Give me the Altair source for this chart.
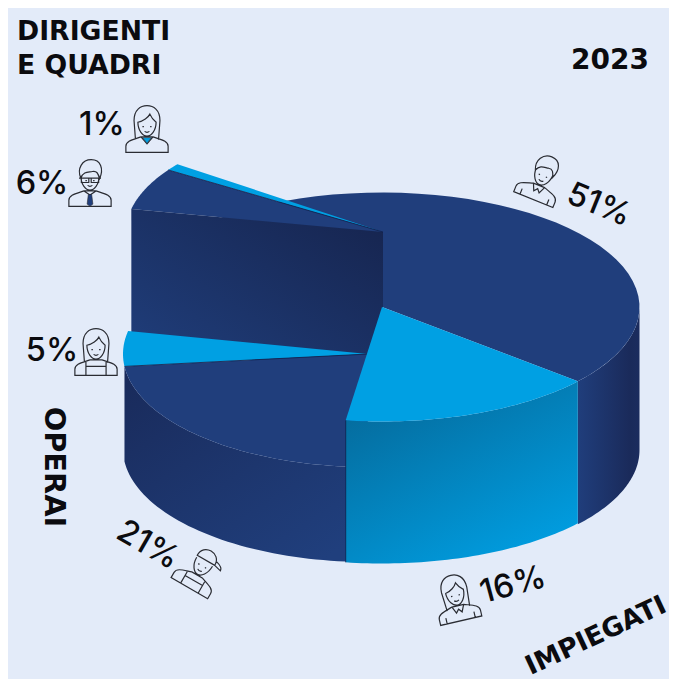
import math
import altair as alt
import pandas as pd

# ---- data
groups = ["Impiegati", "Operai", "Operai donne", "Dirigenti", "Quadri", "Impiegati uomini"]
shares = [16, 21, 5, 6, 1, 51]
labels = ["16%", "21%", "5%", "6%", "1%", "51%"]
year = "2023"
captions = ["DIRIGENTI", "E QUADRI", "OPERAI", "IMPIEGATI"]

BG = "#e3ebf9"
DARK = "#203e7c"
LIGHT = "#00a0e3"
INK = "#2a2c33"
START = 40.5

# angles of each slice follow from its share
spans = {}
a = START
for g, s in zip(groups, shares):
    spans[g] = (a, a + s * 3.6)
    a += s * 3.6

# exploded pie layout: centre x, centre y, radius x, radius y
MAIN = (382, 307, 257.5, 114.5)
LOW = (368, 354, 245, 113)
UP = (383, 232, 257, 113)


def rim(geo, t0, t1, dy=0, n=48):
    cx, cy, rx, ry = geo
    return [
        (cx + rx * math.cos(math.radians(t0 + (t1 - t0) * i / n)),
         cy + dy + ry * math.sin(math.radians(t0 + (t1 - t0) * i / n)))
        for i in range(n + 1)
    ]


def wedge(geo, t0, t1):
    return [(geo[0], geo[1])] + rim(geo, t0, t1)


def wall(geo, t0, t1, depth):
    return rim(geo, t0, t1) + rim(geo, t1, t0, depth)


def grad(c0, c1, x1=0, y1=0, x2=1, y2=1, mid=None):
    stops = [alt.GradientStop(color=c0, offset=0)]
    if mid:
        stops.append(alt.GradientStop(color=mid[0], offset=mid[1]))
    stops.append(alt.GradientStop(color=c1, offset=1))
    return alt.Gradient(gradient="linear", stops=stops, x1=x1, y1=y1, x2=x2, y2=y2)


X = alt.X("x:Q", scale=alt.Scale(domain=[8, 669], nice=False, zero=False), axis=None)
Y = alt.Y("y:Q", scale=alt.Scale(domain=[679, 8], nice=False, zero=False), axis=None)


def poly(points, fill):
    df = pd.DataFrame(points, columns=["x", "y"])
    df["i"] = range(len(df))
    return alt.Chart(df).mark_line(fill=fill, stroke=None, strokeWidth=0, interpolate="linear-closed").encode(
        x=X, y=Y, order="i:Q")


def seam(points, width=0.8):
    df = pd.DataFrame(points, columns=["x", "y"])
    df["i"] = range(len(df))
    return alt.Chart(df).mark_line(color="#11204a", strokeWidth=width).encode(x=X, y=Y, order="i:Q")


t_imp, t_ope, t_opd, t_dir, t_qua, t_man = [spans[g] for g in groups]
# the lower slice runs on behind the front slice so no gap shows between them
t_ope_ext = (t_ope[0] - 8, t_ope[1])

up_a = rim(UP, t_dir[0], t_dir[0], n=1)[0]
up_wall = [(UP[0], UP[1])] + [up_a] + [(up_a[0], up_a[1] + 140), (UP[0], UP[1] + 140)]

layers = [
    poly(wall(MAIN, 0, t_man[1] - 360, 143),
         grad(DARK, "#1b2c5e", 0, 0, 1, 0, mid=("#1a2a5a", 0.85))),
    poly(wedge(MAIN, *t_man), DARK),
    poly(wedge(UP, *t_qua), LIGHT),
    poly(wedge(UP, *t_dir), DARK),
    poly(up_wall, grad("#203f7d", "#16244e", 0, 1, 1, 0)),
    seam([(UP[0], UP[1]), rim(UP, t_dir[1], t_dir[1], n=1)[0]], 0.8),
    poly(wedge(LOW, *t_opd), LIGHT),
    poly(wall(LOW, *t_ope_ext, 95), grad("#192a5a", "#203f7d", 0, 0, 0.8, 1)),
    poly(wedge(LOW, *t_ope_ext), DARK),
    seam([(LOW[0], LOW[1]), rim(LOW, t_ope[1], t_ope[1], n=1)[0]], 0.8),
    poly(wall(MAIN, *t_imp, 142), grad("#056a9b", "#00a0e4", 0.2, 0, 0.85, 1)),
    poly(wedge(MAIN, *t_imp), LIGHT),
    seam([rim(MAIN, t_imp[1], t_imp[1], n=1)[0],
          rim(MAIN, t_imp[1], t_imp[1], dy=142, n=1)[0]], 0.8),
]

# ---- text
bold = pd.DataFrame({
    "x": [17, 17, 571, 54, 596],
    "y": [31.5, 66, 60.5, 467, 636],
    "t": [captions[0], captions[1], year, captions[2], captions[3]],
    "a": [0, 0, 0, 90, 335],
    "s": [26.7, 26.7, 28, 28.8, 26.5],
    "al": ["left", "left", "left", "center", "center"],
})
for al, part in bold.groupby("al"):
    layers.append(
        alt.Chart(part).mark_text(font="DejaVu Sans", fontWeight="bold", color="#0b0b0f",
                                  align=al, baseline="middle").encode(
            x=X, y=Y, text="t:N", angle=alt.Angle("a:Q", scale=None),
            size=alt.Size("s:Q", scale=None, legend=None)))

pct = pd.DataFrame({
    "x": [513, 148, 52, 42, 102, 599],
    "y": [585, 545, 351, 184, 125, 205],
    "t": labels,
    "a": [345, 30, 0, 0, 0, 22],
})
layers.append(
    alt.Chart(pct).mark_text(font="Inter", fontWeight=500, fontSize=32.5, color="#0b0b0f",
                             align="center", baseline="middle").encode(
        x=X, y=Y, text="t:N", angle=alt.Angle("a:Q", scale=None)))

# ---- person icons (line art, unit box -1..1)
SHOULDERS = "M-.88 .97 L-.88 .72 C-.88 .5 -.6 .45 -.25 .33 L.25 .33 C.6 .45 .88 .5 .88 .72 L.88 .97 Z "
FACE = ("M-.38 -.3 C-.38 .08 -.17 .3 0 .3 C.17 .3 .38 .08 .38 -.3 "
        "M-.19 -.1 L-.13 -.1 M.13 -.1 L.19 -.1 M-.1 .1 Q0 .18 .1 .1 ")
COLLAR = "M-.25 .33 L-.12 .62 L0 .48 L.12 .62 L.25 .33 M-.6 .97 L-.6 .72 M.6 .97 L.6 .72 "
MAN_HAIR = ("M-.38 -.2 C-.56 -.6 -.32 -.97 .05 -.97 C.45 -.97 .58 -.6 .4 -.18 "
            "C.34 -.4 .28 -.52 .1 -.48 C-.05 -.44 -.28 -.5 -.38 -.2 Z ")
LONG_HAIR = ("M-.48 .45 L-.54 -.35 C-.54 -.8 -.27 -.97 0 -.97 C.27 -.97 .54 -.8 .54 -.35 L.48 .45 "
             "M-.38 -.28 C-.15 -.32 .05 -.48 .12 -.62 C.18 -.48 .25 -.38 .38 -.28 ")
GLASSES = "M-.46 -.2 L.46 -.2 M-.36 -.2 L-.05 -.2 L-.05 -.02 L-.36 -.02 Z M.05 -.2 L.36 -.2 L.36 -.02 L.05 -.02 Z "
CAP = ("M-.4 -.38 C-.44 -.97 .46 -.97 .44 -.38 Z M.44 -.38 L.76 -.3 C.76 -.42 .64 -.5 .44 -.55 ")
APRON = "M-.42 .42 L-.42 .97 M.42 .42 L.42 .97 M-.42 .6 L.42 .6 "

icons = [
    (147, 129, 0, LONG_HAIR + FACE + SHOULDERS + "M-.25 .33 L0 .62 L.25 .33 ", 2304),
    (90, 183, 0, MAN_HAIR + FACE + GLASSES + SHOULDERS + "M-.25 .33 L0 .5 L.25 .33 ", 2304),
    (542, 178, 22, MAN_HAIR + FACE + SHOULDERS + COLLAR, 2304),
    (96, 352, 0, LONG_HAIR + FACE + SHOULDERS + APRON, 2304),
    (201, 568, 30, CAP + FACE + SHOULDERS + APRON, 2304),
    (456, 598, 347, LONG_HAIR + FACE + SHOULDERS + COLLAR, 2304),
]
for ix, iy, ia, path, size in icons:
    d = pd.DataFrame({"x": [ix], "y": [iy], "a": [ia]})
    layers.append(
        alt.Chart(d).mark_point(shape=path, size=size, filled=False, stroke=INK, strokeWidth=1.2, opacity=1).encode(
            x=X, y=Y, angle=alt.Angle("a:Q", scale=None)))

accents = [
    (147, 129, "M-.18 .36 L.18 .36 L0 .6 Z", LIGHT),
    (90, 183, "M-.07 .48 L.07 .48 L.12 .88 L0 .97 L-.12 .88 Z", DARK),
]
for ix, iy, path, col in accents:
    d = pd.DataFrame({"x": [ix], "y": [iy]})
    layers.append(
        alt.Chart(d).mark_point(shape=path, size=2304, filled=True, fill=col, stroke=INK, strokeWidth=0.6, opacity=1).encode(
            x=X, y=Y))

chart = (
    alt.layer(*layers)
    .properties(width=661, height=671, padding=0, background=BG,
                autosize=alt.AutoSizeParams(type="none"))
    .configure_view(strokeWidth=0)
)
chart.save("out.html", embed_options={"renderer": "svg", "actions": False})
